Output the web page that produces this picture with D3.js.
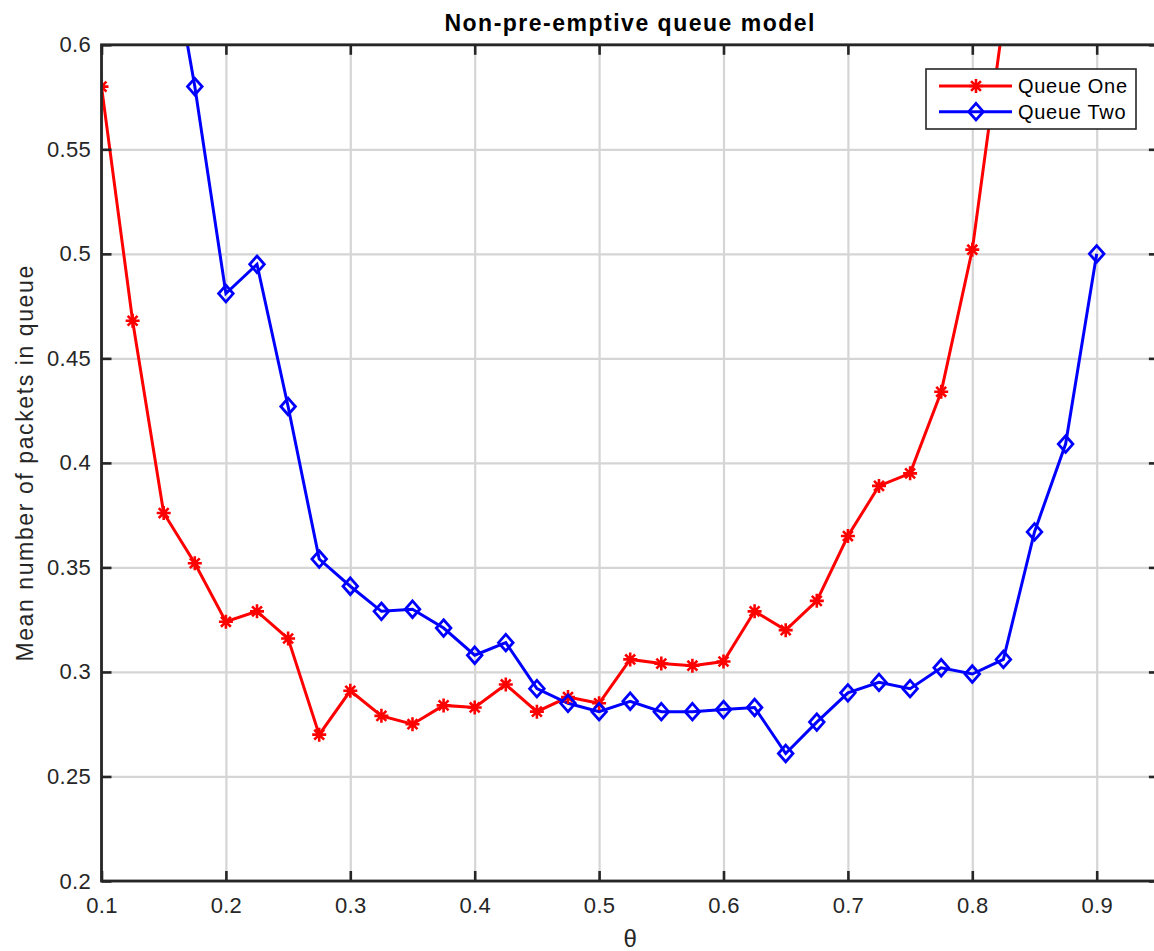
<!DOCTYPE html>
<html><head><meta charset="utf-8">
<script src="https://cdn.jsdelivr.net/npm/d3@7"></script>
<style>body{margin:0;background:#fff}</style></head>
<body>
<svg id="chart" width="1154" height="951"></svg>
<script>
const thetaOne = [0.1,0.125,0.15,0.175,0.2,0.225,0.25,0.275,0.3,0.325,0.35,0.375,0.4,0.425,0.45,0.475,0.5,0.525,0.55,0.575,0.6,0.625,0.65,0.675,0.7,0.725,0.75,0.775,0.8,0.825];
const queueOne = [0.580,0.468,0.376,0.352,0.324,0.329,0.316,0.270,0.291,0.279,0.275,0.284,0.283,0.294,0.281,0.288,0.285,0.306,0.304,0.303,0.305,0.329,0.320,0.334,0.365,0.389,0.395,0.434,0.502,0.612];
const thetaTwo = [0.15,0.175,0.2,0.225,0.25,0.275,0.3,0.325,0.35,0.375,0.4,0.425,0.45,0.475,0.5,0.525,0.55,0.575,0.6,0.625,0.65,0.675,0.7,0.725,0.75,0.775,0.8,0.825,0.85,0.875,0.9];
const queueTwo = [0.665,0.580,0.481,0.495,0.427,0.354,0.341,0.329,0.330,0.321,0.308,0.314,0.292,0.285,0.281,0.286,0.281,0.281,0.282,0.283,0.261,0.276,0.290,0.295,0.292,0.302,0.299,0.306,0.367,0.409,0.500];
const xTicks = [0.1,0.2,0.3,0.4,0.5,0.6,0.7,0.8,0.9];
const xTickLabels = ["0.1","0.2","0.3","0.4","0.5","0.6","0.7","0.8","0.9"];
const yTicks = [0.2,0.25,0.3,0.35,0.4,0.45,0.5,0.55,0.6];
const yTickLabels = ["0.2","0.25","0.3","0.35","0.4","0.45","0.5","0.55","0.6"];
const seriesNames = ["Queue One","Queue Two"];
const titleText = "Non-pre-emptive queue model";
const xLabelText = "θ";
const yLabelText = "Mean number of packets in queue";

const L = 101.5, R = 1158.9, T = 44.8, B = 881;
const font = "'Liberation Sans', Arial, Helvetica, sans-serif";
const axisColor = "#262626";
const svg = d3.select("#chart");
svg.append("rect").attr("width",1154).attr("height",951).attr("fill","#fff");

const x = d3.scaleLinear().domain([0.1,0.95]).range([L,R]);
const y = d3.scaleLinear().domain([0.2,0.6]).range([B,T]);

// grid
const grid = svg.append("g");
grid.append("g").attr("transform",`translate(0,${B})`)
  .call(d3.axisBottom(x).tickValues(xTicks).tickSize(-(B-T)).tickFormat(""))
  .call(g=>{g.select(".domain").remove();g.selectAll("line").attr("stroke","#d5d5d5").attr("stroke-width",2.2);});
grid.append("g").attr("transform",`translate(${L},0)`)
  .call(d3.axisLeft(y).tickValues(yTicks).tickSize(-(R-L)).tickFormat(""))
  .call(g=>{g.select(".domain").remove();g.selectAll("line").attr("stroke","#d5d5d5").attr("stroke-width",2.2);});

// clip
svg.append("clipPath").attr("id","clip").append("rect")
  .attr("x",L).attr("y",T).attr("width",R-L).attr("height",B-T);

const plot = svg.append("g").attr("clip-path","url(#clip)");
const line = d3.line().x(d=>x(d[0])).y(d=>y(d[1]));
const d1 = thetaOne.map((t,i)=>[t,queueOne[i]]);
const d2 = thetaTwo.map((t,i)=>[t,queueTwo[i]]);

const starPath = (r)=>{const d=r*0.7071;return `M${-r},0H${r}M0,${-r}V${r}M${-d},${-d}L${d},${d}M${-d},${d}L${d},${-d}`;};
const diamondPath = "M0,-8.3L7.3,0L0,8.3L-7.3,0Z";

plot.append("path").datum(d1).attr("d",line).attr("fill","none").attr("stroke","#ff0000").attr("stroke-width",3);
plot.append("path").datum(d2).attr("d",line).attr("fill","none").attr("stroke","#0000ff").attr("stroke-width",3);
plot.selectAll(".star").data(d1).join("path").attr("class","star")
  .attr("transform",d=>`translate(${x(d[0])},${y(d[1])})`)
  .attr("d",starPath(7)).attr("fill","none").attr("stroke","#ff0000").attr("stroke-width",2.6);
plot.selectAll(".dia").data(d2).join("path").attr("class","dia")
  .attr("transform",d=>`translate(${x(d[0])},${y(d[1])})`)
  .attr("d",diamondPath).attr("fill","none").attr("stroke","#0000ff").attr("stroke-width",2.8);

// axes
function styleAxis(g){
  g.select(".domain").remove();
  g.selectAll(".tick line").attr("stroke",axisColor).attr("stroke-width",2.6);
  g.selectAll("text").attr("fill",axisColor).style("font-family",font).style("font-size","22px").style("letter-spacing","0.3px");
}
svg.append("g").attr("transform",`translate(0,${B})`)
  .call(d3.axisBottom(x).tickValues(xTicks).tickSize(-10).tickPadding(16).tickFormat((d,i)=>xTickLabels[i]))
  .call(styleAxis);
svg.append("g").attr("transform",`translate(0,${T})`)
  .call(d3.axisTop(x).tickValues(xTicks).tickSize(-10).tickFormat(""))
  .call(styleAxis);
svg.append("g").attr("transform",`translate(${L},0)`)
  .call(d3.axisLeft(y).tickValues(yTicks).tickSize(-10).tickPadding(10.5).tickFormat((d,i)=>yTickLabels[i]))
  .call(styleAxis);
svg.append("g").attr("transform",`translate(${R},0)`)
  .call(d3.axisRight(y).tickValues(yTicks).tickSize(-10).tickFormat(""))
  .call(styleAxis);
svg.append("rect").attr("x",L).attr("y",T).attr("width",R-L).attr("height",B-T)
  .attr("fill","none").attr("stroke",axisColor).attr("stroke-width",2.8);

// labels
svg.append("text").attr("x",(L+R)/2).attr("y",31).attr("text-anchor","middle")
  .style("font-family",font).style("font-size","23px").style("font-weight","bold").style("letter-spacing","1.5px")
  .attr("fill","#000").text(titleText);
svg.append("text").attr("x",(L+R)/2).attr("y",947).attr("text-anchor","middle")
  .style("font-family",font).style("font-size","24px").attr("fill",axisColor).text(xLabelText);
svg.append("text").attr("transform",`translate(32.5,${(T+B)/2}) rotate(-90)`).attr("text-anchor","middle")
  .style("font-family",font).style("font-size","23px").style("letter-spacing","1.6px")
  .attr("fill",axisColor).text(yLabelText);

// legend
const lg = svg.append("g");
lg.append("rect").attr("x",926).attr("y",69).attr("width",210).attr("height",60)
  .attr("fill","#fff").attr("stroke",axisColor).attr("stroke-width",1.6);
const rows = [{name:seriesNames[0],color:"#ff0000",mark:starPath(7),sw:2.6,y:86},
              {name:seriesNames[1],color:"#0000ff",mark:diamondPath,sw:2.8,y:111.7}];
rows.forEach(r=>{
  lg.append("line").attr("x1",939).attr("x2",1012).attr("y1",r.y).attr("y2",r.y).attr("stroke",r.color).attr("stroke-width",3);
  lg.append("path").attr("transform",`translate(976,${r.y})`).attr("d",r.mark).attr("fill","none").attr("stroke",r.color).attr("stroke-width",r.sw);
  lg.append("text").attr("x",1018).attr("y",r.y).attr("dy","0.35em").style("font-family",font).style("font-size","20px")
    .style("letter-spacing","0.7px").attr("fill","#000").text(r.name);
});
</script>
</body></html>
